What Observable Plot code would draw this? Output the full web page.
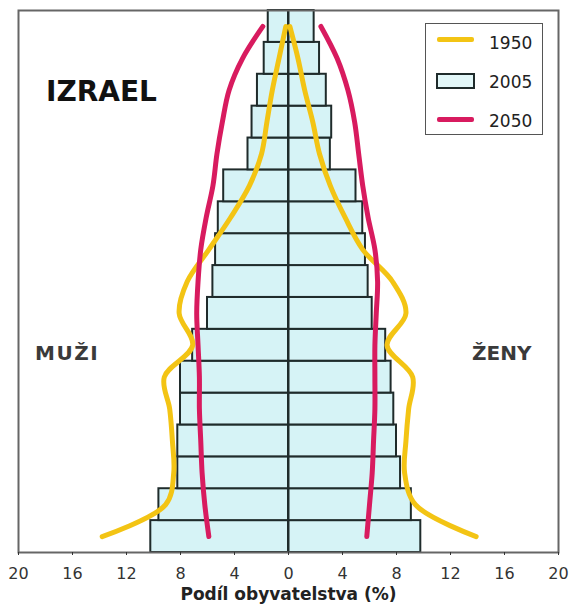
<!DOCTYPE html>
<html><head><meta charset="utf-8">
<script src="https://cdn.jsdelivr.net/npm/d3@7"></script>
<script src="https://cdn.jsdelivr.net/npm/@observablehq/plot@0.6"></script>
<style>
body{margin:0;background:#fff;font-family:"DejaVu Sans",sans-serif;}
#wrap{position:relative;width:574px;height:612px;}
.ann{position:absolute;white-space:nowrap;line-height:1;}
</style></head><body><div id="wrap"></div>
<script>
// age groups, youngest (bottom) to oldest (top)
const ageGroups = ["0-4","5-9","10-14","15-19","20-24","25-29","30-34","35-39","40-44","45-49","50-54","55-59","60-64","65-69","70-74","75-79","80+"];
// % of each sex
const male2005   = [10.2, 9.6, 8.2, 8.2, 8.0, 8.0, 7.1, 6.0, 5.6, 5.4, 5.2, 4.8, 3.0, 2.7, 2.3, 1.8, 1.5];
const female2005 = [9.8, 9.1, 8.3, 8.0, 7.8, 7.6, 7.2, 6.2, 5.9, 5.7, 5.5, 5.0, 3.1, 3.2, 2.8, 2.3, 1.9];
const male1950   = [13.8, 9.1, 8.5, 8.6, 8.8, 9.2, 7.1, 8.1, 7.5, 5.9, 4.3, 2.9, 2.0, 1.6, 1.2, 0.7, 0.2];
const female1950 = [13.9, 9.4, 8.6, 8.7, 8.9, 9.2, 7.3, 8.7, 7.7, 5.5, 4.2, 3.1, 2.3, 1.8, 1.2, 0.7, 0.1];
const male2050   = [5.9, 6.2, 6.4, 6.5, 6.6, 6.6, 6.7, 6.8, 6.7, 6.5, 6.1, 5.6, 5.3, 4.9, 4.4, 3.4, 1.9];
const female2050 = [5.8, 6.0, 6.2, 6.3, 6.4, 6.4, 6.4, 6.5, 6.6, 6.4, 5.9, 5.5, 5.2, 4.9, 4.4, 3.6, 2.4];
const xTicks = [-20, -16, -12, -8, -4, 0, 4, 8, 12, 16, 20];
const axisLabel = "Podíl obyvatelstva (%)";
const title = "IZRAEL";
const leftLabel = "MUŽI", rightLabel = "ŽENY";
const legendYears = ["1950", "2005", "2050"];

const C1950 = "#f3c414", C2050 = "#d81b5f", BAR = "#d6f3f6", EDGE = "#1f2b2b";

const rows = ageGroups.map((age, i) => ({
  age, i,
  m05: male2005[i], f05: female2005[i],
  m50: male1950[i], f50: female1950[i],
  m2050: male2050[i], f2050: female2050[i]
}));

const chart = Plot.plot({
  width: 574, height: 612,
  marginLeft: 18, marginRight: 16, marginTop: 10, marginBottom: 60,
  style: {fontFamily: "DejaVu Sans, sans-serif", background: "white"},
  x: {domain: [-20, 20]},
  y: {domain: [-0.5, 16.5], axis: null},
  marks: [
    Plot.rect(rows, {x1: d => -d.m05, x2: 0, y1: d => d.i - 0.5, y2: d => d.i + 0.5, fill: BAR, stroke: EDGE, strokeWidth: 2}),
    Plot.rect(rows, {x1: 0, x2: d => d.f05, y1: d => d.i - 0.5, y2: d => d.i + 0.5, fill: BAR, stroke: EDGE, strokeWidth: 2}),
    Plot.ruleX([0], {stroke: EDGE, strokeWidth: 2}),
    Plot.line(rows, {x: d => -d.m50, y: "i", curve: "catmull-rom", stroke: C1950, strokeWidth: 5}),
    Plot.line(rows, {x: "f50", y: "i", curve: "catmull-rom", stroke: C1950, strokeWidth: 5}),
    Plot.line(rows, {x: d => -d.m2050, y: "i", curve: "catmull-rom", stroke: C2050, strokeWidth: 5}),
    Plot.line(rows, {x: "f2050", y: "i", curve: "catmull-rom", stroke: C2050, strokeWidth: 5}),
    Plot.frame({stroke: "#666", strokeWidth: 2}),
    Plot.axisX(xTicks, {tickFormat: d => Math.abs(d), tickSize: 3, tickPadding: 12, fontSize: 16, color: "#333", label: null}),
    Plot.text([axisLabel], {frameAnchor: "bottom", dy: 47, fontWeight: "bold", fontSize: 17, fill: "#222"})
  ]
});

const wrap = document.getElementById("wrap");
wrap.appendChild(chart);

function ann(text, left, top, css) {
  const d = document.createElement("div");
  d.className = "ann";
  d.textContent = text;
  d.style.left = left + "px";
  d.style.top = top + "px";
  Object.assign(d.style, css || {});
  wrap.appendChild(d);
  return d;
}
ann(title, 46, 78, {fontSize: "28px", fontWeight: "bold", color: "#111"});
ann(leftLabel, 35, 343, {fontSize: "20px", fontWeight: "bold", color: "#3a3a3a", letterSpacing: "1.5px"});
ann(rightLabel, 472, 343, {fontSize: "20px", fontWeight: "bold", color: "#3a3a3a"});

// legend box
const box = document.createElement("div");
Object.assign(box.style, {position: "absolute", left: "425px", top: "23px", width: "116px", height: "110px", border: "1.5px solid #555", background: "#fff"});
wrap.appendChild(box);
function sw(left, top, w, h, css) {
  const d = document.createElement("div");
  Object.assign(d.style, {position: "absolute", left: left + "px", top: top + "px", width: w + "px", height: h + "px"}, css);
  wrap.appendChild(d);
}
sw(437, 37, 37, 5, {background: C1950, borderRadius: "2px"});
sw(436, 73, 35, 12, {background: "#e2f7f8", border: "2px solid " + EDGE});
sw(437, 117, 37, 5, {background: C2050, borderRadius: "2px"});
const ly = [35, 74, 113];
legendYears.forEach((t, k) => ann(t, 489, ly[k], {fontSize: "17px", color: "#222"}));
</script></body></html>
